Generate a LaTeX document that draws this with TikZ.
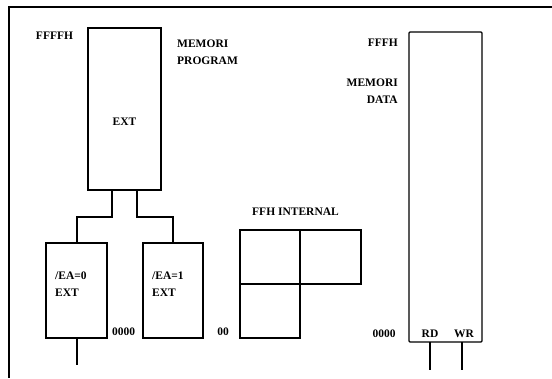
\documentclass[tikz,border=0pt]{standalone}
\usepackage{fontspec}
\setmainfont{Liberation Serif}
\begin{document}
\begin{tikzpicture}[x=1pt,y=-1pt,
  box/.style={draw,line width=1.3pt,inner sep=0pt,minimum width=0pt,minimum height=0pt},
  lbl/.style={inner sep=0pt,font=\fontsize{11.5}{17.5}\selectfont\bfseries},
  wire/.style={line width=1.3pt}]
\useasboundingbox (0,0) rectangle (552,378);
% frame
\draw[line width=2pt] (552,7) -- (9,7) -- (9,378);
% program memory
\draw[box] (88,28) rectangle (161,190);
\coordinate (pb1) at (112,190);
\coordinate (pb2) at (137,190);
\node[lbl] (fffffh) at (54.5,36) {FFFFH};
\node[lbl,align=left,anchor=west] (mprog) at (177,52) {MEMORI\\PROGRAM};
\node[lbl] (ext) at (124.5,122) {EXT};
% EA boxes
\draw[box] (46,243) rectangle (107,338);
\draw[box] (143,243) rectangle (203,338);
\coordinate (ea0t) at (77,243);
\coordinate (ea1t) at (173,243);
\coordinate (ea0b) at (77,338);
\coordinate (ea0e) at (77,365);
\draw[wire] (pb1) -- (112,217) -| (ea0t);
\draw[wire] (pb2) -- (137,217) -| (ea1t);
\draw[wire] (ea0b) -- (ea0e);
\node[lbl,align=left,anchor=west] (ea0) at (55,284) {/EA=0\\EXT};
\node[lbl,align=left,anchor=west] (ea1) at (152,284) {/EA=1\\EXT};
\node[lbl] (z1) at (123.5,332) {0000};
\node[lbl] (z2) at (223,332) {00};
% internal
\draw[box] (240,230) rectangle (300,284);
\draw[box] (300,230) rectangle (361,284);
\draw[box] (240,284) rectangle (300,338);
\node[lbl] (ffh) at (295.5,212) {FFH INTERNAL};
% data memory
\draw[box,rounded corners=1pt] (409,32) rectangle (482,342);
\node[lbl,anchor=east] (fffh) at (398,43) {FFFH};
\node[lbl,align=right,anchor=east] (mdata) at (398,91) {MEMORI\\DATA};
\node[lbl] (z3) at (384,334) {0000};
\node[lbl] (rd) at (430,334) {RD};
\node[lbl] (wr) at (464,334) {WR};
\coordinate (rdb) at (430,342);
\coordinate (wrb) at (462,342);
\draw[wire] (rdb) -- (430,370);
\draw[wire] (wrb) -- (462,370);
\end{tikzpicture}
\end{document}
